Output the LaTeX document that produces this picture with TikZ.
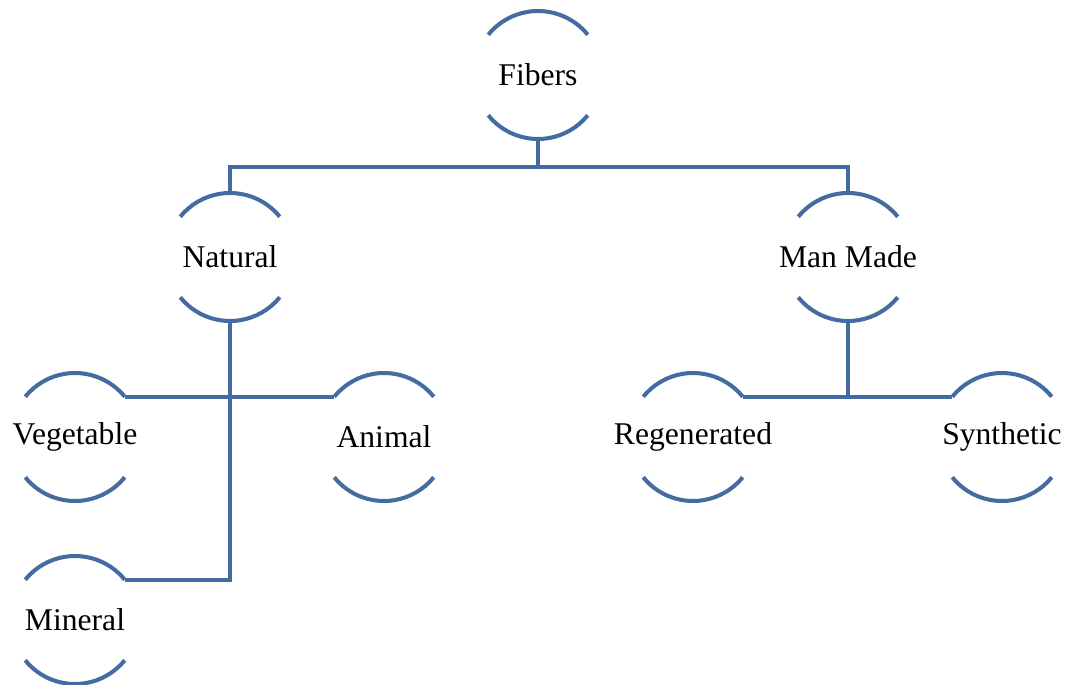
\documentclass[tikz,border=0pt]{standalone}
\usepackage{fontspec}
\newfontfamily\fibfont{Liberation Serif}
\usetikzlibrary{calc}
\definecolor{fibblue}{RGB}{68,108,160}
\tikzset{
  fibtext/.style={circle, minimum size=2.56cm, inner sep=0pt, outer sep=0pt, font=\fibfont\fontsize{18}{21}\selectfont},
  fibline/.style={draw=fibblue, line width=2.3pt}
}
\newcommand{\fibnode}[3]{%
  \node[fibtext] (#1) at (#2) {\raisebox{-0.05cm}{\makebox[0pt]{#3}}};
  \draw[fibline] (#1.39) arc (39:141:1.28);
  \draw[fibline] (#1.219) arc (219:321:1.28);
}

\begin{document}
\begin{tikzpicture}
\useasboundingbox (0,0) rectangle (21.56,-13.68);
% the nodes
\fibnode{Fibers}{10.76,-1.5}{Fibers}
\fibnode{Natural}{4.6,-5.14}{Natural}
\fibnode{ManMade}{16.96,-5.14}{Man Made}
\fibnode{Vegetable}{1.5,-8.74}{Vegetable}
\fibnode{Animal}{7.68,-8.74}{Animal}
\fibnode{Regenerated}{13.86,-8.74}{Regenerated}
\fibnode{Synthetic}{20.04,-8.74}{Synthetic}
\fibnode{Mineral}{1.5,-12.4}{Mineral}
% the connectors
\coordinate (split) at ($(Fibers.south)+(0,-0.56)$);
\draw[fibline] (Fibers.south) -- (split);
\draw[fibline] (Natural.north) |- (split) -| (ManMade.north);
%     natural side
\draw[fibline] (Natural.south) |- (Mineral.39);
\draw[fibline] (Vegetable.39) -- (Animal.141);
%     man made side
\draw[fibline] (ManMade.south) -- (ManMade.south |- Regenerated.39);
\draw[fibline] (Regenerated.39) -- (Synthetic.141);
\end{tikzpicture}
\end{document}
